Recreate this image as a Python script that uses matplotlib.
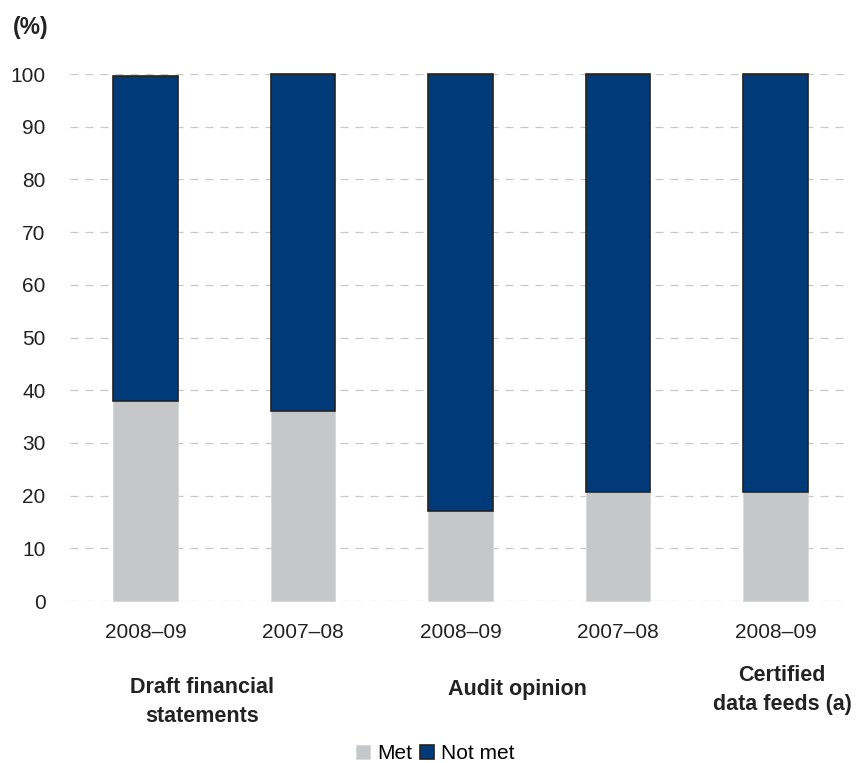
import matplotlib.pyplot as plt
import numpy as np

plt.rcParams['font.family'] = ['Liberation Sans', 'DejaVu Sans']

years = ["2008–09", "2007–08", "2008–09", "2007–08", "2008–09"]
met = [37.9, 36.0, 17.0, 20.7, 20.7]
not_met = [61.7, 64.0, 83.0, 79.3, 79.3]
groups = ["Draft financial\nstatements", "Audit opinion", "Certified\ndata feeds (a)"]
group_pos = [0.36, 2.36, 4.04]
group_y = [-17.5, -17.85, -15.2]   # baseline of first line, in data units

grey = "#c6c7c9"
navy = "#003a78"

fig = plt.figure(figsize=(8.62, 7.63), dpi=100)
ax = fig.add_axes([0.081, 0.2123, 0.903, 0.6907])

x = np.arange(len(years))
ax.bar(x, met, width=0.41, color=grey, edgecolor="#d8d8d8", linewidth=0.6,
       label="Met", zorder=3, clip_on=False)
ax.bar(x, not_met, width=0.41, bottom=met, color=navy, edgecolor="#222222",
       linewidth=1.2, label="Not met", zorder=3, clip_on=False)

ax.set_xlim(-0.48, 4.46)
ax.set_ylim(0, 100)
ax.set_yticks(range(0, 101, 10))
ax.yaxis.grid(True, linestyle=(0, (6.4, 5.6)), color="#c8c8c8", linewidth=0.9, zorder=0)
ax.set_axisbelow(True)
for s in ax.spines.values():
    s.set_visible(False)
ax.tick_params(axis="y", length=0, pad=17.5, labelsize=15, labelcolor="#222222")
ax.tick_params(axis="x", length=0, pad=16, labelsize=15, labelcolor="#222222")
ax.set_xticks(x)
ax.set_xticklabels(years)

# group labels, one text per line so the baselines sit where they should
for g, p, gy in zip(groups, group_pos, group_y):
    for i, line in enumerate(g.split("\n")):
        ax.text(p, gy - i * 5.55, line, ha="center", va="baseline", fontsize=15.5,
                fontweight="bold", color="#222222", clip_on=False)

fig.text(0.015, 0.9646, "(%)", fontsize=16.5, fontweight="bold", color="#222222",
         ha="left", va="center")

fig.legend(loc="center", bbox_to_anchor=(0.505, 0.0125), ncol=2, frameon=False,
           fontsize=15, handlelength=0.65, handleheight=0.65, handletextpad=0.35,
           columnspacing=0.4, borderpad=0.1)

fig.savefig("out.png", dpi=100)
